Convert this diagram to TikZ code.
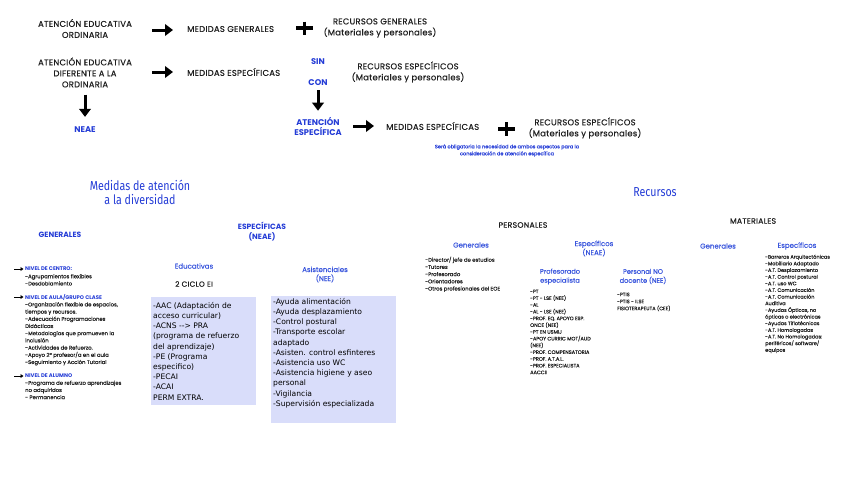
\documentclass[tikz,border=0pt]{standalone}
\usepackage{fontspec}
\usetikzlibrary{arrows.meta}
\setmainfont{Poppins}
\newfontfamily\pop{Poppins}
\newfontfamily\pops{Poppins}[FakeBold=0.25]
\newfontfamily\popw{Poppins}[LetterSpace=3,FakeBold=0.45]
\newfontfamily\dvs{DejaVu Sans}
\newfontfamily\tit{Fira Sans}[FakeStretch=0.82]
\definecolor{blueT}{RGB}{36,60,214}
\definecolor{blueL}{RGB}{58,86,220}
\definecolor{darkT}{RGB}{30,30,30}
\definecolor{boxF}{RGB}{217,221,250}
\tikzset{
  hd/.style={inner sep=0pt, text=darkT, font=\popw\fontsize{8.4}{11}\selectfont},
  hdb/.style={inner sep=0pt, text=blueT, font=\pop\bfseries\fontsize{8.3}{10}\selectfont},
  sub/.style={inner sep=0pt, text=blueL, font=\pops\fontsize{7}{9}\selectfont, align=center},
  subd/.style={inner sep=0pt, text=darkT, font=\popw\fontsize{7.8}{10}\selectfont, align=center},
  titl/.style={inner sep=0pt, text=blueT, font=\tit\fontsize{13}{14}\selectfont, align=center},
  smh/.style={inner sep=0pt, anchor=west, text=blueT, font=\pop\bfseries\fontsize{5.3}{7.2}\selectfont},
  sml/.style={inner sep=0pt, anchor=north west, align=left, text=darkT, font=\pops\fontsize{5.3}{7.2}\selectfont},
  boxbg/.style={fill=boxF, draw=none, inner sep=0pt, anchor=north west},
  boxt/.style={inner sep=0pt, anchor=north west, align=left, text=black, font=\dvs\fontsize{7.6}{10.2}\selectfont},
  bigarrow/.style={line width=3pt, -{Triangle[length=8pt,width=11.5pt]}},
  smarrow/.style={line width=0.9pt, -{Triangle[length=3pt,width=3.8pt]}},
  plusln/.style={line width=3.8pt}
}
\begin{document}
\begin{tikzpicture}[x=1pt,y=-1pt]
\useasboundingbox (0,0) rectangle (848,477);
% --- top scheme ---
\node[hd, align=center] (ord) at (85,28.5) {ATENCIÓN EDUCATIVA\\ORDINARIA};
\node[hd, anchor=west] (medgen) at (187,29) {MEDIDAS GENERALES};
\node[hd, align=center] (recgen) at (380,28) {RECURSOS GENERALES\\(Materiales y personales)};
\node[hd, align=center] (dif) at (85,72.5) {ATENCIÓN EDUCATIVA\\DIFERENTE A LA\\ORDINARIA};
\node[hd, anchor=west] (medesp) at (187,72) {MEDIDAS ESPECÍFICAS};
\node[hdb] (sin) at (318,62) {SIN};
\node[hdb] (con) at (318,83) {CON};
\node[hd, align=center] (recesp) at (408,72) {RECURSOS ESPECÍFICOS\\(Materiales y personales)};
\node[hdb] (neae) at (85,130) {NEAE};
\node[hdb, align=center] (atesp) at (318,126) {ATENCIÓN\\ESPECÍFICA};
\node[hd, anchor=west] (medesp2) at (386,126) {MEDIDAS ESPECÍFICAS};
\node[hd, align=center] (recesp2) at (585,128) {RECURSOS ESPECÍFICOS\\(Materiales y personales)};
\node[inner sep=0pt, text=blueT, align=center, font=\pops\fontsize{5}{7}\selectfont] (nota) at (507,150.5) {Será obligatoria la necesidad de ambos aspectos para la\\consideración de atención específica};
% arrows
\draw[bigarrow] ([xshift=-35pt,yshift=-1pt]medgen.west) -- ([xshift=-14pt,yshift=-1pt]medgen.west);
\draw[bigarrow] ([xshift=-35pt]medesp.west) -- ([xshift=-14pt]medesp.west);
\draw[bigarrow] ([xshift=-33pt]medesp2.west) -- ([xshift=-12pt]medesp2.west);
\draw[bigarrow] ([yshift=-4pt]con.south) -- ([yshift=6pt]atesp.north);
\draw[bigarrow] ([yshift=-7pt]dif.south) -- ([yshift=10pt]neae.north);
% plus signs
\draw[plusln] (296,28) -- (313,28); \draw[plusln] (304.5,21.5) -- (304.5,34.5);
\draw[plusln] (498,129) -- (515,129); \draw[plusln] (506.5,122) -- (506.5,136);
% --- titles ---
\node[titl] (tmed) at (140,192) {Medidas de atención\\a la diversidad};
\node[titl] (trec) at (655,192) {Recursos};
\node[hdb, font=\pop\bfseries\fontsize{7.6}{10}\selectfont] (gen) at (60,235) {GENERALES};
\node[hdb, align=center, font=\pop\bfseries\fontsize{7.6}{10}\selectfont] (esp) at (262,232) {ESPECÍFICAS\\(NEAE)};
\node[subd] (pers) at (523,225) {PERSONALES};
\node[subd] (mat) at (753,221) {MATERIALES};
\node[sub] (pgen) at (471,245) {Generales};
\node[sub] (pesp) at (594,248.5) {Específicos\\(NEAE)};
\node[sub] (mgen) at (718,246) {Generales};
\node[sub] (mesp) at (797,246) {Específicos};
\node[sub] (educ) at (194,266) {Educativas};
\node[subd, font=\popw\fontsize{7.4}{10}\selectfont] (ciclo) at (194,284) {2 CICLO EI};
\node[sub] (asist) at (325,274.5) {Asistenciales\\(NEE)};
\node[sub, font=\pops\fontsize{6.6}{9}\selectfont] (profe) at (560,276.5) {Profesorado\\especialista};
\node[sub, font=\pops\fontsize{6.6}{9}\selectfont] (pnd) at (643,276.5) {Personal NO\\docente (NEE)};
% --- generales list ---
\node[smh] (nc) at (25,269) {NIVEL DE CENTRO:};
\node[sml] (lc) at (25,274) {-Agrupamientos flexibles\\-Desdoblamiento};
\node[smh] (na) at (25,297) {NIVEL DE AULA/GRUPO CLASE};
\node[sml] (la) at (25,302) {-Organización flexible de espacios,\\tiempos y recursos.\\-Adecuación Programaciones\\Didácticas\\-Metodologías que promueven la\\inclusión\\-Actividades de Refuerzo.\\-Apoyo 2º profesor/a en el aula\\-Seguimiento y Acción Tutorial};
\node[smh] (nal) at (25,376) {NIVEL DE ALUMNO};
\node[sml] (lal) at (25,380.5) {-Programa de refuerzo aprendizajes\\no adquiridos\\- Permanencia};
\draw[smarrow] ([xshift=-11pt]nc.west) -- ([xshift=-1.5pt]nc.west);
\draw[smarrow] ([xshift=-11pt]na.west) -- ([xshift=-1.5pt]na.west);
\draw[smarrow] ([xshift=-11pt]nal.west) -- ([xshift=-1.5pt]nal.west);
% --- boxes ---
\node[boxbg, minimum width=105pt, minimum height=108pt] (b1) at (151,297) {};
\node[boxt] (b1t) at ([xshift=2pt,yshift=-5pt]b1.north west) {-AAC (Adaptación de\\acceso curricular)\\-ACNS -{}-{}> PRA\\(programa de refuerzo\\del aprendizaje)\\-PE (Programa\\especifico)\\-PECAI\\-ACAI\\PERM EXTRA.};
\node[boxbg, minimum width=125pt, minimum height=127pt] (b2) at (271,296) {};
\node[boxt] (b2t) at ([xshift=2pt,yshift=-2pt]b2.north west) {-Ayuda alimentación\\-Ayuda desplazamiento\\-Control postural\\-Transporte escolar\\adaptado\\-Asisten. control esfinteres\\-Asistencia uso WC\\-Asistencia higiene y aseo\\personal\\-Vigilancia\\-Supervisión especializada};
% --- recursos lists ---
\node[sml] (lpg) at (425,256.5) {-Director/ jefe de estudios\\-Tutores\\-Profesorado\\-Orientadores\\-Otros profesionales del EOE};
\node[sml, font=\pops\fontsize{5}{6.75}\selectfont] (lpe) at (530,289.5) {-PT\\-PT - LSE (NEE)\\-AL\\-AL - LSE (NEE)\\-PROF. EQ. APOYO ESP.\\ONCE (NEE)\\-PT EN USMIJ\\-APOY CURRIC MOT/AUD\\(NEE)\\-PROF. COMPENSATORIA\\-PROF. A.T.A.L.\\-PROF. ESPECIALISTA\\AACCII};
\node[sml, font=\pops\fontsize{5}{7}\selectfont] (lpn) at (617,292.5) {-PTIS\\-PTIS - ILSE\\FISIOTERAPEUTA (CEE)};
\node[sml, font=\pops\fontsize{5}{6.65}\selectfont] (lme) at (765,254.5) {-Barreras Arquitectónicas\\-Mobiliario Adaptado\\-A.T. Desplazamiento\\-A.T. Control postural\\-A.T. uso WC\\-A.T. Comunicación\\-A.T. Comunicación\\Auditiva\\-Ayudas Ópticas, no\\ópticas o electrónicas\\-Ayudas Tiflotécnicas\\-A.T. Homologadas\\-A.T. No Homologadas:\\periféricos/ software/\\equipos};
\end{tikzpicture}
\end{document}
